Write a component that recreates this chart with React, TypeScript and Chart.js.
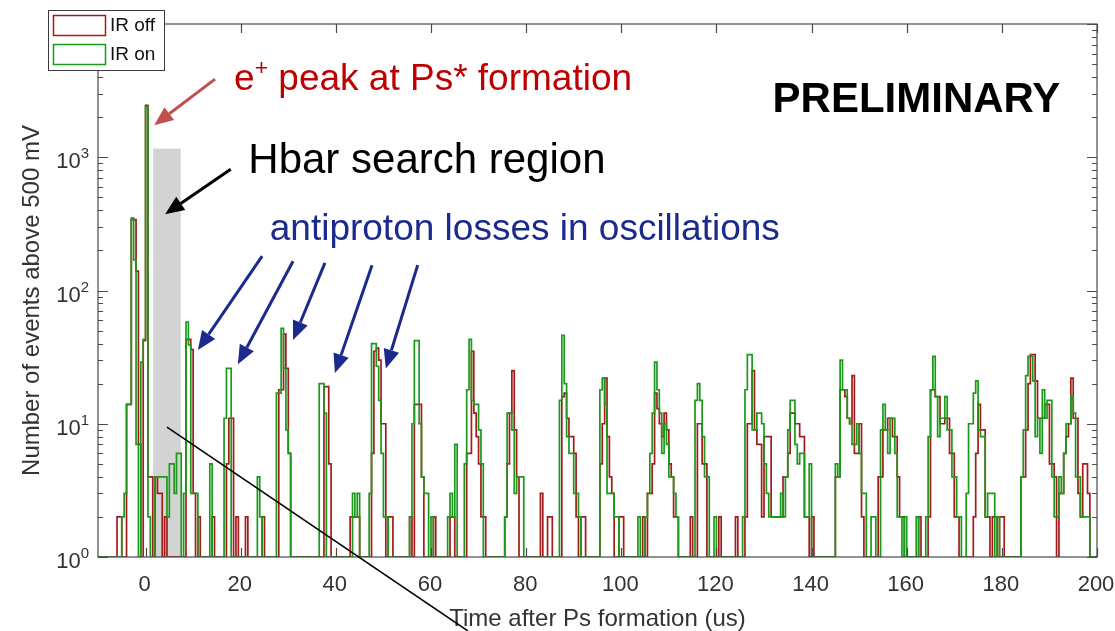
import React, { useEffect, useRef } from "react";
import { Chart, registerables } from "chart.js";

Chart.register(...registerables);

// Histogram binning (microseconds)
const BIN_START = -10;
const BIN_WIDTH = 0.5;

// Counts per 0.5 us bin, IR laser off (each row = 10 us)
const irOffCounts = [
  0, 0, 0, 0, 0, 0, 0, 0, 2, 2, 0, 0, 14, 14, 340, 340, 140, 7, 0, 42,
  2450, 4, 4, 0, 4, 3, 3, 0, 2, 0, 0, 0, 0, 0, 0, 0, 0, 43, 43, 36,
  3, 0, 2, 0, 0, 0, 0, 0, 2, 0, 0, 0, 0, 0, 5, 11, 11, 0, 2, 0,
  0, 0, 2, 0, 0, 0, 0, 0, 0, 2, 0, 0, 0, 0, 0, 0, 18, 18, 47, 26,
  6, 0, 0, 0, 0, 0, 0, 0, 0, 0, 0, 0, 0, 0, 0, 19, 19, 5, 0, 0,
  0, 0, 0, 0, 0, 0, 2, 2, 2, 2, 0, 0, 0, 0, 0, 6, 35, 37, 30, 10,
  10, 0, 2, 2, 0, 0, 0, 0, 0, 0, 0, 2, 0, 14, 14, 14, 4, 0, 0, 0,
  0, 2, 0, 0, 0, 0, 0, 0, 2, 2, 0, 0, 0, 0, 0, 6, 6, 35, 12, 8,
  5, 2, 2, 0, 0, 0, 0, 0, 0, 0, 0, 2, 5, 12, 25, 9, 4, 0, 0, 0,
  0, 0, 0, 0, 0, 0, 3, 0, 0, 2, 2, 0, 0, 0, 0, 16, 17, 11, 8, 8,
  6, 2, 0, 2, 2, 0, 0, 0, 0, 0, 0, 5, 10, 22, 8, 4, 3, 0, 0, 2,
  2, 0, 0, 0, 0, 0, 0, 0, 0, 2, 0, 3, 3, 5, 17, 13, 10, 8, 12, 9,
  5, 4, 2, 2, 0, 0, 0, 0, 0, 2, 0, 0, 10, 10, 5, 5, 0, 0, 0, 0,
  0, 2, 0, 0, 0, 0, 0, 0, 2, 0, 0, 0, 2, 10, 10, 25, 9, 7, 7, 2,
  8, 8, 8, 2, 2, 2, 2, 2, 4, 4, 6, 12, 12, 10, 10, 8, 8, 2, 2, 0,
  2, 0, 0, 0, 0, 0, 0, 0, 0, 0, 4, 4, 18, 18, 16, 11, 10, 23, 6, 6,
  10, 2, 0, 0, 0, 0, 0, 0, 4, 4, 9, 9, 11, 11, 8, 8, 4, 2, 2, 0,
  0, 0, 0, 0, 0, 2, 0, 0, 0, 2, 18, 18, 16, 16, 10, 10, 11, 11, 6, 6,
  2, 2, 0, 0, 0, 0, 0, 0, 2, 6, 14, 9, 9, 2, 2, 0, 2, 2, 0, 2,
  2, 0, 0, 0, 0, 0, 0, 0, 4, 4, 9, 20, 33, 33, 21, 11, 11, 11, 14, 14,
  5, 5, 4, 0, 3, 3, 6, 8, 10, 22, 11, 11, 3, 2, 5, 5, 3, 0, 0, 0,
];

// Counts per 0.5 us bin, IR laser on
const irOnCounts = [
  0, 0, 0, 0, 0, 0, 0, 0, 0, 0, 2, 3, 14, 14, 350, 170, 7, 0, 29, 43,
  2400, 2, 0, 0, 4, 4, 4, 4, 4, 2, 5, 5, 3, 6, 6, 0, 3, 58, 39, 3,
  3, 3, 0, 0, 0, 0, 0, 5, 0, 0, 0, 0, 0, 11, 26, 26, 0, 0, 0, 0,
  0, 0, 0, 0, 0, 0, 0, 4, 2, 0, 0, 0, 0, 0, 0, 17, 17, 52, 26, 9,
  6, 0, 0, 0, 0, 0, 0, 0, 0, 0, 0, 0, 0, 20, 20, 12, 0, 0, 0, 0,
  0, 0, 0, 0, 0, 0, 0, 3, 2, 3, 0, 0, 0, 0, 3, 40, 40, 27, 15, 6,
  2, 2, 0, 0, 0, 0, 0, 0, 0, 0, 0, 2, 10, 42, 42, 10, 4, 3, 3, 0,
  2, 0, 0, 0, 0, 0, 0, 2, 3, 2, 7, 0, 0, 0, 5, 18, 43, 15, 14, 14,
  9, 5, 0, 0, 0, 0, 0, 0, 0, 0, 0, 2, 12, 12, 9, 3, 4, 4, 4, 0,
  0, 0, 0, 0, 0, 0, 0, 0, 0, 0, 0, 0, 0, 0, 15, 46, 20, 8, 6, 6,
  3, 3, 2, 0, 0, 0, 0, 0, 0, 0, 0, 18, 22, 14, 3, 3, 3, 2, 2, 0,
  0, 0, 0, 0, 0, 0, 0, 2, 0, 0, 2, 3, 6, 12, 29, 18, 12, 6, 10, 7,
  4, 4, 3, 2, 0, 0, 0, 0, 0, 0, 0, 15, 20, 15, 8, 4, 4, 0, 0, 2,
  0, 0, 0, 0, 0, 0, 0, 0, 0, 0, 0, 2, 18, 33, 33, 9, 9, 12, 12, 10,
  5, 3, 2, 2, 2, 2, 2, 3, 2, 4, 9, 15, 15, 7, 5, 6, 6, 2, 2, 5,
  0, 0, 0, 0, 0, 0, 0, 0, 0, 0, 5, 4, 30, 18, 18, 11, 10, 7, 7, 10,
  6, 3, 3, 0, 0, 2, 2, 0, 0, 9, 14, 9, 6, 11, 11, 6, 2, 2, 0, 2,
  0, 0, 0, 0, 2, 0, 0, 0, 2, 8, 18, 32, 16, 8, 11, 11, 16, 9, 9, 4,
  4, 2, 2, 0, 0, 3, 10, 10, 17, 21, 9, 8, 8, 2, 3, 3, 3, 0, 2, 0,
  0, 0, 0, 0, 0, 0, 0, 0, 4, 9, 23, 32, 32, 21, 8, 11, 6, 18, 11, 15,
  15, 4, 2, 2, 4, 3, 6, 10, 10, 16, 12, 4, 4, 2, 2, 2, 2, 0, 0, 0,
];

const seriesLabels = ["IR off", "IR on"];
const seriesColors = ["#a31c1c", "#1a9a1a"];

const timeRange = [-10, 200];
const timeTicks = [0, 20, 40, 60, 80, 100, 120, 140, 160, 180, 200];
const countExponents = [0, 1, 2, 3, 4];

const xTitle = "Time after Ps formation (us)";
const yTitle = "Number of events above 500 mV";

// Shaded search window: [from, to] in us, and its height in counts
const hbarRegion = { from: 1.6, to: 7.4, top: 1160 };

// Annotation anchors in data coordinates: [time (us), count]
type Seg = { s: string; sup?: boolean };
const notes: { segs: Seg[]; at: [number, number]; size: number; color: string; bold?: boolean }[] = [
  { segs: [{ s: "e" }, { s: "+", sup: true }, { s: " peak at Ps* formation" }], at: [18.6, 3186], size: 37, color: "#c00000" },
  { segs: [{ s: "Hbar search region" }], at: [21.6, 760], size: 42, color: "#000000" },
  { segs: [{ s: "antiproton losses in oscillations" }], at: [26.1, 239], size: 37, color: "#1c2a8e" },
  { segs: [{ s: "PRELIMINARY" }], at: [131.8, 2180], size: 42, color: "#000000", bold: true },
];

const arrows: { from: [number, number]; to: [number, number]; color: string; width: number }[] = [
  { from: [14.6, 3855], to: [1.8, 1742], color: "#c0504d", width: 3 },
  { from: [17.9, 814], to: [4.1, 374], color: "#000000", width: 3 },
  { from: [24.5, 181], to: [11.0, 35.7], color: "#1c2a8e", width: 3 },
  { from: [31.0, 166], to: [19.4, 28], color: "#1c2a8e", width: 3 },
  { from: [37.7, 161], to: [31.0, 42.5], color: "#1c2a8e", width: 3 },
  { from: [47.6, 155], to: [39.8, 24], color: "#1c2a8e", width: 3 },
  { from: [57.2, 155], to: [50.5, 26], color: "#1c2a8e", width: 3 },
];

const pointerLine: { from: [number, number]; to: [number, number] } = {
  from: [4.5, 9.44],
  to: [67.75, 0.279],
};

const FONT = '"Liberation Sans", Arial, Helvetica, sans-serif';
const AXIS_COLOR = "#4a4a4a";
const LABEL_COLOR = "#333333";

function stairs(counts: number[]) {
  const pts: { x: number; y: number }[] = [];
  counts.forEach((c, i) => {
    const v = Math.max(c, 1);
    const x0 = BIN_START + i * BIN_WIDTH;
    pts.push({ x: x0, y: v }, { x: x0 + BIN_WIDTH, y: v });
  });
  return pts;
}

function drawRich(ctx: CanvasRenderingContext2D, segs: Seg[], x: number, y: number, size: number, bold: boolean) {
  let cx = x;
  for (const seg of segs) {
    const fs = seg.sup ? size * 0.62 : size;
    ctx.font = `${bold ? "bold " : ""}${fs}px ${FONT}`;
    ctx.fillText(seg.s, cx, seg.sup ? y - size * 0.4 : y);
    cx += ctx.measureText(seg.s).width;
  }
}

function drawArrow(ctx: CanvasRenderingContext2D, x0: number, y0: number, x1: number, y1: number, color: string, lw: number) {
  const headLen = 19;
  const headHalf = 8;
  const ang = Math.atan2(y1 - y0, x1 - x0);
  const bx = x1 - headLen * Math.cos(ang);
  const by = y1 - headLen * Math.sin(ang);
  ctx.strokeStyle = color;
  ctx.fillStyle = color;
  ctx.lineWidth = lw;
  ctx.beginPath();
  ctx.moveTo(x0, y0);
  ctx.lineTo(bx, by);
  ctx.stroke();
  ctx.beginPath();
  ctx.moveTo(x1, y1);
  ctx.lineTo(bx + headHalf * Math.sin(ang), by - headHalf * Math.cos(ang));
  ctx.lineTo(bx - headHalf * Math.sin(ang), by + headHalf * Math.cos(ang));
  ctx.closePath();
  ctx.fill();
}

const decorPlugin = {
  id: "histDecor",
  beforeDatasetsDraw(chart: any) {
    const ctx: CanvasRenderingContext2D = chart.ctx;
    const xs = chart.scales.x;
    const ys = chart.scales.y;
    const { bottom } = chart.chartArea;
    const x0 = xs.getPixelForValue(hbarRegion.from);
    const x1 = xs.getPixelForValue(hbarRegion.to);
    const yTop = ys.getPixelForValue(hbarRegion.top);
    ctx.save();
    ctx.fillStyle = "#d3d3d3";
    ctx.fillRect(x0, yTop, x1 - x0, bottom - yTop);
    ctx.restore();
  },
  afterDatasetsDraw(chart: any) {
    const ctx: CanvasRenderingContext2D = chart.ctx;
    const xs = chart.scales.x;
    const ys = chart.scales.y;
    const { left, right, top, bottom } = chart.chartArea;
    ctx.save();
    ctx.strokeStyle = AXIS_COLOR;
    ctx.lineWidth = 1.2;
    ctx.strokeRect(left, top, right - left, bottom - top);

    // x ticks (inward, bottom and top)
    ctx.beginPath();
    for (const t of timeTicks) {
      const x = Math.round(xs.getPixelForValue(t)) + 0.5;
      ctx.moveTo(x, bottom);
      ctx.lineTo(x, bottom - 9);
      ctx.moveTo(x, top);
      ctx.lineTo(x, top + 9);
    }
    // y ticks: decades and minor ticks on both sides
    for (const e of countExponents) {
      for (let m = 1; m <= 9; m++) {
        const v = m * Math.pow(10, e);
        if (v > 10000) break;
        const y = Math.round(ys.getPixelForValue(v)) + 0.5;
        const len = m === 1 ? 10 : 5;
        ctx.moveTo(left, y);
        ctx.lineTo(left + len, y);
        ctx.moveTo(right, y);
        ctx.lineTo(right - len, y);
      }
    }
    ctx.stroke();

    // tick labels
    ctx.fillStyle = LABEL_COLOR;
    ctx.textAlign = "center";
    ctx.textBaseline = "middle";
    ctx.font = `22px ${FONT}`;
    for (const t of timeTicks) {
      ctx.fillText(String(t), xs.getPixelForValue(t) - 1, bottom + 28);
    }
    ctx.textAlign = "left";
    ctx.textBaseline = "alphabetic";
    for (const e of countExponents) {
      const y = ys.getPixelForValue(Math.pow(10, e));
      ctx.font = `15px ${FONT}`;
      const ew = ctx.measureText(String(e)).width;
      ctx.font = `22px ${FONT}`;
      const bw = ctx.measureText("10").width;
      const xEnd = left - 9;
      ctx.fillText("10", xEnd - ew - bw, y + 11);
      ctx.font = `15px ${FONT}`;
      ctx.fillText(String(e), xEnd - ew, y + 1);
    }

    // axis titles
    ctx.font = `24px ${FONT}`;
    ctx.textAlign = "center";
    ctx.textBaseline = "middle";
    ctx.fillText(xTitle, (left + right) / 2, bottom + 62);
    ctx.save();
    ctx.translate(32, (top + bottom) / 2 + 10);
    ctx.rotate(-Math.PI / 2);
    ctx.fillText(yTitle, 0, 0);
    ctx.restore();
    ctx.restore();
  },
  afterDraw(chart: any) {
    const ctx: CanvasRenderingContext2D = chart.ctx;
    const xs = chart.scales.x;
    const ys = chart.scales.y;
    const P = (p: [number, number]) => [xs.getPixelForValue(p[0]), ys.getPixelForValue(p[1])];
    ctx.save();

    // pointer line running off the axes
    const [lx0, ly0] = P(pointerLine.from);
    const [lx1, ly1] = P(pointerLine.to);
    ctx.strokeStyle = "#000";
    ctx.lineWidth = 1.6;
    ctx.beginPath();
    ctx.moveTo(lx0, ly0);
    ctx.lineTo(lx1, ly1);
    ctx.stroke();

    for (const a of arrows) {
      const [x0, y0] = P(a.from);
      const [x1, y1] = P(a.to);
      drawArrow(ctx, x0, y0, x1, y1, a.color, a.width);
    }

    ctx.textAlign = "left";
    ctx.textBaseline = "alphabetic";
    for (const n of notes) {
      const [x, y] = P(n.at);
      ctx.fillStyle = n.color;
      drawRich(ctx, n.segs, x, y, n.size, !!n.bold);
    }

    // legend box in the top-left corner
    const bx = 48, by = 10, bw = 116, bh = 60;
    ctx.fillStyle = "#fff";
    ctx.fillRect(bx, by, bw, bh);
    ctx.strokeStyle = "#3a3a3a";
    ctx.lineWidth = 1;
    ctx.strokeRect(bx + 0.5, by + 0.5, bw, bh);
    chart.data.datasets.forEach((ds: any, i: number) => {
      const ry = by + 5 + i * 29;
      ctx.strokeStyle = ds.borderColor;
      ctx.lineWidth = 1.5;
      ctx.strokeRect(bx + 5.5, ry + 0.5, 52, 20);
      ctx.fillStyle = "#111";
      ctx.font = `19px ${FONT}`;
      ctx.textBaseline = "middle";
      ctx.fillText(ds.label, bx + 62, ry + 11);
    });
    ctx.restore();
  },
};

export default function App() {
  const canvasRef = useRef<HTMLCanvasElement>(null);

  useEffect(() => {
    if (!canvasRef.current) return;
    const chart = new Chart(canvasRef.current, {
      type: "line",
      data: {
        datasets: [
          {
            label: seriesLabels[0],
            data: stairs(irOffCounts),
            borderColor: seriesColors[0],
            borderWidth: 1.7,
            pointRadius: 0,
            fill: false,
            tension: 0,
            order: 1,
          },
          {
            label: seriesLabels[1],
            data: stairs(irOnCounts),
            borderColor: seriesColors[1],
            borderWidth: 1.7,
            pointRadius: 0,
            fill: false,
            tension: 0,
            order: 0,
          },
        ],
      },
      options: {
        animation: false,
        responsive: true,
        maintainAspectRatio: false,
        layout: { padding: { left: 98, top: 24, right: 18, bottom: 74 } },
        scales: {
          x: { type: "linear", min: timeRange[0], max: timeRange[1], display: false },
          y: { type: "logarithmic", min: 1, max: 10000, display: false },
        },
        plugins: {
          legend: { display: false },
          tooltip: { enabled: false },
        },
        events: [],
      },
      plugins: [decorPlugin],
    });
    return () => chart.destroy();
  }, []);

  return (
    <div style={{ position: "fixed", left: 0, top: 0, width: 1115, height: 631, background: "#fff" }}>
      <canvas ref={canvasRef} />
    </div>
  );
}
